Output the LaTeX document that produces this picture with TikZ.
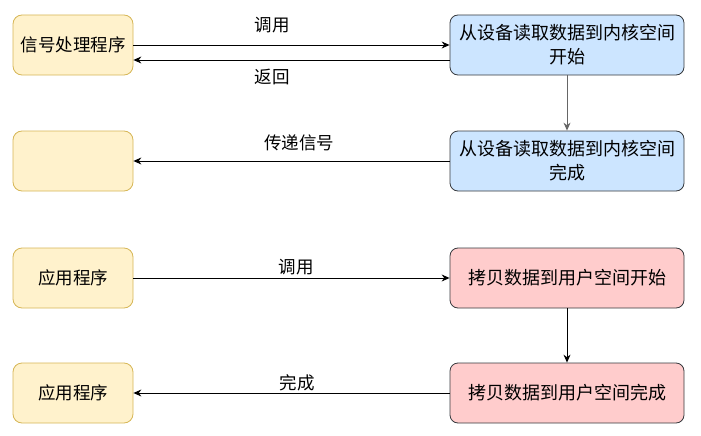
\documentclass[tikz,border=0pt]{standalone}
\usepackage{fontspec}
\setmainfont{Noto Sans CJK SC}
\usetikzlibrary{arrows.meta}
\definecolor{yfill}{HTML}{FFF2CC}
\definecolor{ydraw}{HTML}{D6B656}
\definecolor{bfill}{HTML}{CCE5FF}
\definecolor{rfill}{HTML}{FFCCCC}
\definecolor{dk}{HTML}{36393D}
\definecolor{gy}{HTML}{666666}
\tikzset{
  lbox/.style={draw=ydraw, fill=yfill, rounded corners=9pt, minimum width=120pt, minimum height=60pt, inner sep=0pt, line width=0.8pt, font=\fontsize{17.5}{22}\selectfont},
  rbox/.style={draw=dk, fill=#1, rounded corners=8pt, minimum width=234pt, minimum height=60pt, inner sep=0pt, line width=0.8pt, align=center, font=\fontsize{18}{24}\selectfont},
  conn/.style={line width=0.9pt, -{Stealth[length=8pt,width=7pt]}},
  lab/.style={font=\fontsize{17.5}{22}\selectfont, inner sep=0pt}
}
\begin{document}
\begin{tikzpicture}[x=1pt,y=-1pt]
\useasboundingbox (0,0) rectangle (701,436);
\node[lbox] (L1) at (73,45) {信号处理程序};
\node[lbox] (L2) at (73,161) {};
\node[lbox] (L3) at (73,278) {应用程序};
\node[lbox] (L4) at (73,393) {应用程序};
\node[rbox=bfill] (R1) at (567,45) {从设备读取数据到内核空间\\开始};
\node[rbox=bfill] (R2) at (567,161) {从设备读取数据到内核空间\\完成};
\node[rbox=rfill] (R3) at (567,278) {拷贝数据到用户空间开始};
\node[rbox=rfill] (R4) at (567,393) {拷贝数据到用户空间完成};
\draw[conn] (L1.east) -- (R1.west);
\draw[conn] ([yshift=-15pt]R1.west) -- ([yshift=-15pt]L1.east);
\draw[conn, draw=gy] (R1.south) -- (R2.north);
\draw[conn] (R2.west) -- (L2.east);
\draw[conn] (L3.east) -- (R3.west);
\draw[conn] (R3.south) -- (R4.north);
\draw[conn] (R4.west) -- (L4.east);
\node[lab] (t1) at (272,25) {调用};
\node[lab] (t2) at (272,77) {返回};
\node[lab] (t3) at (299,143) {传递信号};
\node[lab] (t4) at (296,267) {调用};
\node[lab] (t5) at (297,383) {完成};
\end{tikzpicture}
\end{document}
